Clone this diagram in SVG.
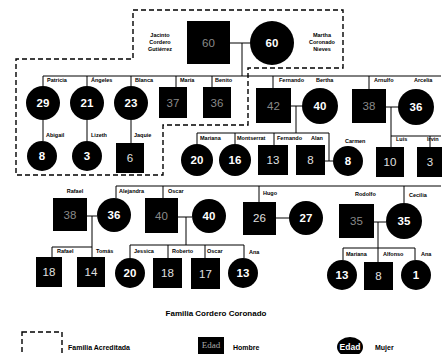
<svg xmlns="http://www.w3.org/2000/svg" width="442" height="354" viewBox="0 0 442 354">
  <style>
    .bg { fill: #ffffff; }
    .m { fill: #000000; }
    .f { fill: #000000; }
    .ln { fill: none; stroke: #000000; stroke-width: 1; }
    .fam { fill: none; stroke: #000000; stroke-width: 1.4; stroke-dasharray: 5 3; }
    .lbl { font-family: "Liberation Sans", Arial, sans-serif; font-size: 5.5px; font-weight: bold; fill: #000000; }
    .cap { font-family: "Liberation Sans", Arial, sans-serif; font-size: 5.5px; font-weight: bold; fill: #000000; text-anchor: middle; }
    .nf { font-family: "Liberation Sans", Arial, sans-serif; font-size: 11.5px; font-weight: bold; fill: #ffffff; text-anchor: middle; }
    .nm { font-family: "Liberation Sans", Arial, sans-serif; font-size: 11.5px; fill: #e0e0e0; text-anchor: middle; }
    .nd { font-family: "Liberation Sans", Arial, sans-serif; font-size: 11.5px; fill: #8a8a8a; text-anchor: middle; }
    .title { font-family: "Liberation Sans", Arial, sans-serif; font-size: 8px; font-weight: bold; fill: #000000; text-anchor: middle; }
    .leg { font-family: "Liberation Sans", Arial, sans-serif; font-size: 7px; font-weight: bold; fill: #000000; }
  </style>

  <rect class="bg" x="0" y="0" width="442" height="354"/>

  <!-- accredited family outline -->
  <path id="familia-acreditada" class="fam" d="M133 10 H343 V68 H248 V125 H163 V175 H16 V59 H133 Z"/>

  <!-- connectors -->
  <g id="connectors">
    <!-- Jacinto + Martha -->
    <path class="ln" d="M230 43 H250 M242 43 V76 M43 76 H441"/>
    <path class="ln" d="M43 76 V86 M87 76 V86 M131 76 V86 M176 76 V87 M212 76 V87 M273 76 V88 M369 76 V89"/>
    <!-- Patricia, Angeles, Blanca to their children -->
    <path class="ln" d="M43 120 V141 M87 120 V141 M131 120 V143"/>
    <!-- Fernando + Bertha -->
    <path class="ln" d="M291 106 H302 M296 106 V133 M197 133 H329 V161 M197 133 V144 M235 133 V144 M274 133 V145 M325 161 H333"/>
    <!-- Arnulfo + Arcelia -->
    <path class="ln" d="M386 107 H398 M391 107 V147 M391 136 H441 M430 136 V147"/>
    <!-- lower sibling line -->
    <path class="ln" d="M116 186 H441 M116 186 V198 M163 186 V198 M259 186 V202 M404 186 V203"/>
    <!-- Rafael + Alejandra -->
    <path class="ln" d="M87 216 H97 M92 216 V247 M52 247 H92 M52 247 V257 M92 247 V257"/>
    <!-- Oscar + wife -->
    <path class="ln" d="M178 217 H192 M186 217 V245 M130 245 H244 V258 M130 245 V258 M168 245 V258 M205 245 V258"/>
    <!-- Hugo + wife -->
    <path class="ln" d="M276 218 H289"/>
    <!-- Rodolfo + Cecilia -->
    <path class="ln" d="M374 222 H386 M378 222 V262 M343 248 H415 M343 248 V260 M415 248 V260"/>
  </g>

  <!-- generation 1 -->
  <g id="jacinto">
    <rect class="m" x="187" y="21" width="43" height="43"/>
    <text class="nd" x="208.5" y="47">60</text>
    <text class="cap" x="160" y="37">Jacinto</text>
    <text class="cap" x="160" y="44">Cordero</text>
    <text class="cap" x="160" y="51">Gutiérrez</text>
  </g>
  <g id="martha">
    <circle class="f" cx="272" cy="43" r="22"/>
    <text class="nf" x="272" y="47">60</text>
    <text class="cap" x="322" y="37">Martha</text>
    <text class="cap" x="322" y="44">Coronado</text>
    <text class="cap" x="322" y="51">Nieves</text>
  </g>

  <!-- generation 2, upper row -->
  <g id="patricia">
    <circle class="f" cx="43" cy="103" r="17"/>
    <text class="nf" x="43" y="107">29</text>
    <text class="lbl" x="47" y="82">Patricia</text>
  </g>
  <g id="angeles">
    <circle class="f" cx="87" cy="103" r="17"/>
    <text class="nf" x="87" y="107">21</text>
    <text class="lbl" x="91" y="82">Ángeles</text>
  </g>
  <g id="blanca">
    <circle class="f" cx="131" cy="103" r="17"/>
    <text class="nf" x="131" y="107">23</text>
    <text class="lbl" x="135" y="82">Blanca</text>
  </g>
  <g id="maria">
    <rect class="m" x="159" y="87" width="28" height="31"/>
    <text class="nd" x="173" y="107">37</text>
    <text class="lbl" x="180" y="82">María</text>
  </g>
  <g id="benito">
    <rect class="m" x="203" y="87" width="28" height="31"/>
    <text class="nd" x="217" y="107">36</text>
    <text class="lbl" x="215" y="82">Benito</text>
  </g>
  <g id="fernando">
    <rect class="m" x="256" y="88" width="35" height="35"/>
    <text class="nd" x="273.5" y="110">42</text>
    <text class="lbl" x="279" y="82">Fernando</text>
  </g>
  <g id="bertha">
    <circle class="f" cx="320" cy="106" r="18"/>
    <text class="nf" x="320" y="110">40</text>
    <text class="lbl" x="316" y="82">Bertha</text>
  </g>
  <g id="arnulfo">
    <rect class="m" x="352" y="89" width="34" height="34"/>
    <text class="nd" x="369" y="110">38</text>
    <text class="lbl" x="374" y="82">Arnulfo</text>
  </g>
  <g id="arcelia">
    <circle class="f" cx="416" cy="107" r="18"/>
    <text class="nf" x="416" y="111">36</text>
    <text class="lbl" x="414" y="82">Arcelia</text>
  </g>

  <!-- generation 3, upper row -->
  <g id="abigail">
    <circle class="f" cx="42" cy="156" r="15"/>
    <text class="nf" x="42" y="160">8</text>
    <text class="lbl" x="46" y="137">Abigail</text>
  </g>
  <g id="lizeth">
    <circle class="f" cx="87" cy="156" r="15"/>
    <text class="nf" x="87" y="160">3</text>
    <text class="lbl" x="91" y="137">Lizeth</text>
  </g>
  <g id="jaquie">
    <rect class="m" x="116" y="143" width="28" height="30"/>
    <text class="nm" x="130" y="162">6</text>
    <text class="lbl" x="134" y="137">Jaquie</text>
  </g>
  <g id="mariana-f">
    <circle class="f" cx="197" cy="160" r="16"/>
    <text class="nf" x="197" y="164">20</text>
    <text class="lbl" x="200" y="140">Mariana</text>
  </g>
  <g id="montserrat">
    <circle class="f" cx="235" cy="160" r="16"/>
    <text class="nf" x="235" y="164">16</text>
    <text class="lbl" x="237" y="140">Montserrat</text>
  </g>
  <g id="fernando-jr">
    <rect class="m" x="258" y="145" width="30" height="30"/>
    <text class="nm" x="273" y="164">13</text>
    <text class="lbl" x="277" y="140">Fernando</text>
  </g>
  <g id="alan">
    <rect class="m" x="296" y="145" width="29" height="30"/>
    <text class="nm" x="310.5" y="164">8</text>
    <text class="lbl" x="311" y="140">Alan</text>
  </g>
  <g id="carmen">
    <circle class="f" cx="348" cy="161" r="15"/>
    <text class="nf" x="348" y="165">8</text>
    <text class="lbl" x="345" y="143">Carmen</text>
  </g>
  <g id="luis">
    <rect class="m" x="376" y="147" width="28" height="30"/>
    <text class="nm" x="390" y="166">10</text>
    <text class="lbl" x="396" y="141">Luis</text>
  </g>
  <g id="irvin">
    <rect class="m" x="417" y="147" width="28" height="30"/>
    <text class="nm" x="430" y="166">3</text>
    <text class="lbl" x="427" y="141">Irvin</text>
  </g>

  <!-- generation 2, lower row -->
  <g id="rafael">
    <rect class="m" x="53" y="198" width="34" height="33"/>
    <text class="nd" x="70" y="219">38</text>
    <text class="cap" x="75" y="193">Rafael</text>
  </g>
  <g id="alejandra">
    <circle class="f" cx="114" cy="215" r="17"/>
    <text class="nf" x="114" y="219">36</text>
    <text class="lbl" x="119" y="193">Alejandra</text>
  </g>
  <g id="oscar">
    <rect class="m" x="145" y="198" width="33" height="35"/>
    <text class="nd" x="161.5" y="220">40</text>
    <text class="lbl" x="168" y="193">Oscar</text>
  </g>
  <g id="oscar-esposa">
    <circle class="f" cx="209" cy="216" r="17"/>
    <text class="nf" x="209" y="220">40</text>
  </g>
  <g id="hugo">
    <rect class="m" x="243" y="202" width="33" height="33"/>
    <text class="nm" x="259.5" y="222">26</text>
    <text class="lbl" x="263" y="195">Hugo</text>
  </g>
  <g id="hugo-esposa">
    <circle class="f" cx="306" cy="218" r="17"/>
    <text class="nf" x="306" y="222">27</text>
  </g>
  <g id="rodolfo">
    <rect class="m" x="339" y="204" width="35" height="34"/>
    <text class="nd" x="356.5" y="225">35</text>
    <text class="lbl" x="355" y="196">Rodolfo</text>
  </g>
  <g id="cecilia">
    <circle class="f" cx="404" cy="221" r="18"/>
    <text class="nf" x="404" y="225">35</text>
    <text class="lbl" x="409" y="197">Cecilia</text>
  </g>

  <!-- generation 3, lower row -->
  <g id="rafael-jr">
    <rect class="m" x="36" y="257" width="26" height="30"/>
    <text class="nm" x="49" y="276">18</text>
    <text class="lbl" x="57" y="253">Rafael</text>
  </g>
  <g id="tomas">
    <rect class="m" x="77" y="257" width="28" height="30"/>
    <text class="nm" x="91" y="276">14</text>
    <text class="lbl" x="96" y="253">Tomás</text>
  </g>
  <g id="jessica">
    <circle class="f" cx="130" cy="273" r="15"/>
    <text class="nf" x="130" y="277">20</text>
    <text class="lbl" x="134" y="253">Jessica</text>
  </g>
  <g id="roberto">
    <rect class="m" x="153" y="258" width="29" height="30"/>
    <text class="nm" x="167.5" y="277">18</text>
    <text class="lbl" x="172" y="253">Roberto</text>
  </g>
  <g id="oscar-jr">
    <rect class="m" x="191" y="258" width="29" height="31"/>
    <text class="nm" x="205.5" y="278">17</text>
    <text class="lbl" x="207" y="253">Oscar</text>
  </g>
  <g id="ana-o">
    <circle class="f" cx="243" cy="273" r="15"/>
    <text class="nf" x="243" y="277">13</text>
    <text class="lbl" x="249" y="254">Ana</text>
  </g>
  <g id="mariana-r">
    <circle class="f" cx="342" cy="275" r="15"/>
    <text class="nf" x="342" y="279">13</text>
    <text class="lbl" x="346" y="256">Mariana</text>
  </g>
  <g id="alfonso">
    <rect class="m" x="364" y="262" width="29" height="28"/>
    <text class="nm" x="378.5" y="280">8</text>
    <text class="lbl" x="383" y="256">Alfonso</text>
  </g>
  <g id="ana-r">
    <circle class="f" cx="416" cy="275" r="15"/>
    <text class="nf" x="416" y="279">1</text>
    <text class="lbl" x="421" y="256">Ana</text>
  </g>

  <!-- title -->
  <text class="title" x="216" y="316">Familia Cordero Coronado</text>

  <!-- legend -->
  <g id="legend">
    <rect class="fam" x="22" y="332" width="40" height="30"/>
    <text class="leg" x="68" y="350">Familia Acreditada</text>
    <rect class="m" x="198" y="337" width="26" height="19"/>
    <text x="211" y="348" style="font-family: 'Liberation Serif', serif; font-size: 9px; fill: #aaaaaa; text-anchor: middle;">Edad</text>
    <text class="leg" x="233" y="350">Hombre</text>
    <ellipse class="f" cx="350" cy="347" rx="13" ry="10"/>
    <text x="350" y="350" style="font-family: 'Liberation Sans', Arial, sans-serif; font-size: 8.5px; font-weight: bold; fill: #ffffff; text-anchor: middle;">Edad</text>
    <text class="leg" x="375" y="350">Mujer</text>
  </g>
</svg>
